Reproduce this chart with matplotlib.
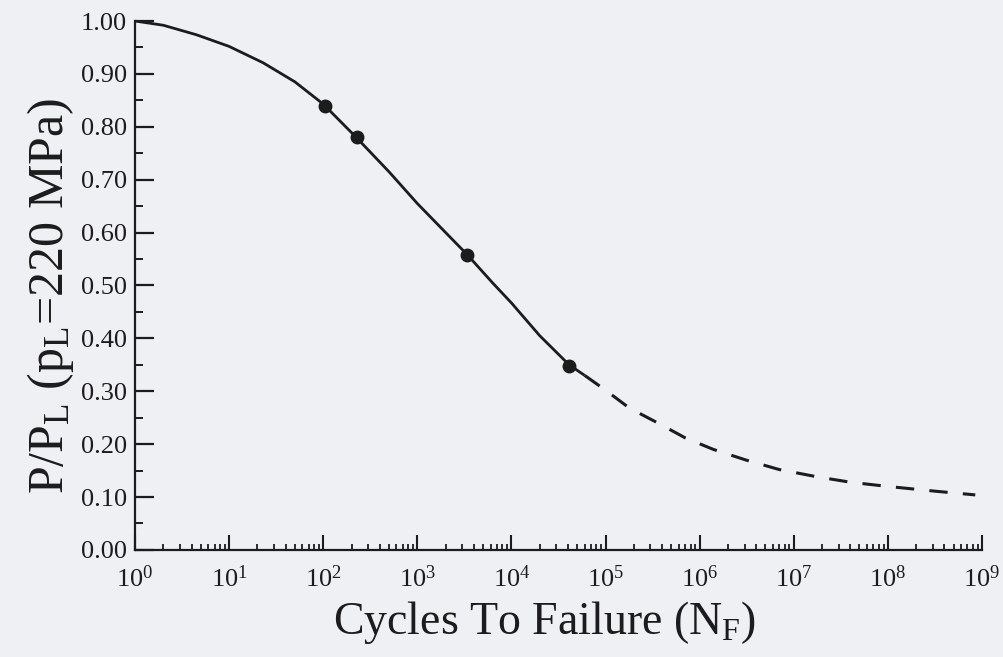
import matplotlib
matplotlib.use("Agg")
import matplotlib.pyplot as plt
from matplotlib.ticker import LogLocator, FixedLocator, MultipleLocator, FormatStrFormatter, NullFormatter

# ---- data ----
solid_N = [1, 2, 4.5, 10, 23, 50, 100, 230, 500, 1000, 2000, 3400, 6300, 1e4, 2e4, 4.1e4, 6e4]
solid_P = [1.000, 0.992, 0.974, 0.952, 0.921, 0.885, 0.843, 0.778, 0.715, 0.655, 0.600, 0.558,
           0.505, 0.467, 0.405, 0.350, 0.330]
dashed_N = [6e4, 1e5, 1.8e5, 3.6e5, 7e5, 1.4e6, 3.1e6, 7e6, 1.8e7, 4e7, 1e8, 3.2e8, 8.5e8]
dashed_P = [0.330, 0.302, 0.268, 0.240, 0.212, 0.190, 0.170, 0.152, 0.138, 0.128, 0.120, 0.111, 0.104]
points_N = [105, 230, 3400, 41000]
points_P = [0.84, 0.78, 0.558, 0.348]

y_ticks = [0.0, 0.1, 0.2, 0.3, 0.4, 0.5, 0.6, 0.7, 0.8, 0.9, 1.0]
x_exponents = [0, 1, 2, 3, 4, 5, 6, 7, 8, 9]

plt.rcParams['font.family'] = ['Liberation Serif', 'DejaVu Serif']
plt.rcParams['mathtext.fontset'] = 'custom'
plt.rcParams['mathtext.rm'] = 'Liberation Serif'
plt.rcParams['mathtext.it'] = 'Liberation Serif:italic'
plt.rcParams['mathtext.bf'] = 'Liberation Serif:bold'

bg = '#eff0f4'
ink = '#1c1c1c'

fig = plt.figure(figsize=(10.04, 6.57), dpi=100, facecolor=bg)
ax = fig.add_axes([0.1345, 0.163, 0.978 - 0.1345, 0.968 - 0.163])
ax.set_facecolor(bg)

ax.plot(solid_N, solid_P, color=ink, lw=2.0, solid_capstyle='butt')
ax.plot(dashed_N, dashed_P, color=ink, lw=2.2, linestyle=(0, (6, 5)))
ax.plot(points_N, points_P, 'o', color=ink, ms=9, zorder=5)

ax.set_xscale('log')
ax.set_xlim(1, 1e9)
ax.set_ylim(0, 1.0)

for s in ['top', 'right']:
    ax.spines[s].set_visible(False)
for s in ['left', 'bottom']:
    ax.spines[s].set_color(ink)
    ax.spines[s].set_linewidth(1.6)

ax.xaxis.set_major_locator(FixedLocator([10.0 ** e for e in x_exponents]))
ax.set_xticklabels([r'$\mathregular{10^{%d}}$' % e for e in x_exponents])
ax.xaxis.set_minor_locator(LogLocator(base=10, subs=range(2, 10), numticks=20))
ax.xaxis.set_minor_formatter(NullFormatter())

ax.yaxis.set_major_locator(FixedLocator(y_ticks))
ax.yaxis.set_major_formatter(FormatStrFormatter('%.2f'))
ax.yaxis.set_minor_locator(MultipleLocator(0.05))

ax.tick_params(axis='y', which='major', direction='in', length=14, width=1.6,
               color=ink, labelsize=19, labelcolor=ink, pad=6)
ax.tick_params(axis='y', which='minor', direction='in', length=6, width=1.4, color=ink)
ax.tick_params(axis='x', which='major', direction='in', length=11, width=1.5,
               color=ink, labelsize=19, labelcolor=ink, pad=11)
ax.tick_params(axis='x', which='minor', direction='in', length=4, width=1.3, color=ink)

ax.set_xlabel(r'Cycles To Failure (N$_\mathregular{F}$)', fontsize=33, color=ink)
ax.xaxis.set_label_coords(0.484, -0.092)
ax.set_ylabel(r'P/P$_\mathregular{L}$ (p$_\mathregular{L}$=220 MPa)', fontsize=36, color=ink)
ax.yaxis.set_label_coords(-0.07, 0.48)

fig.savefig('out.png', dpi=100, facecolor=bg)
